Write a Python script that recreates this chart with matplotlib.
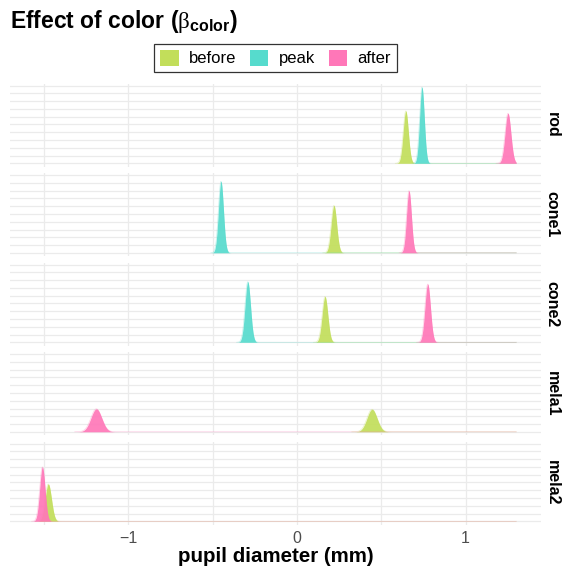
import numpy as np
import matplotlib
matplotlib.use("Agg")
import matplotlib.pyplot as plt
from matplotlib.patches import Patch

plt.rcParams['font.family'] = ['Liberation Sans', 'DejaVu Sans']
plt.rcParams['mathtext.fontset'] = 'custom'
plt.rcParams['mathtext.rm'] = 'Liberation Serif'
plt.rcParams['mathtext.bf'] = 'Liberation Sans:bold'
plt.rcParams['mathtext.it'] = 'Liberation Serif:italic'

# ---- data ----
panels = ['rod', 'cone1', 'cone2', 'mela1', 'mela2']
groups = ['before', 'peak', 'after']
colors = ['#C2DE5A', '#56DBCD', '#FF77B8']

before_mean = [0.645, 0.219, 0.166, 0.445, -1.475]
before_sd = [0.0155, 0.0165, 0.017, 0.030, 0.019]
before_h = [6.74, 6.1, 5.9, 2.9, 4.8]

peak_mean = [0.741, -0.451, -0.292, np.nan, np.nan]
peak_sd = [0.014, 0.015, 0.0165, np.nan, np.nan]
peak_h = [9.8, 9.2, 7.8, np.nan, np.nan]

after_mean = [1.251, 0.664, 0.775, -1.19, -1.51]
after_sd = [0.0175, 0.0145, 0.0165, 0.032, 0.016]
after_h = [6.44, 8.0, 7.5, 2.96, 7.0]

x_end = 1.30
xlim = (-1.702, 1.447)
ylim = (-0.45, 10.28)
xtick_pos = [-1.5, -1, -0.5, 0, 0.5, 1]
xtick_lab = ['', '\u22121', '', '0', '', '1']

means = [before_mean, peak_mean, after_mean]
sds = [before_sd, peak_sd, after_sd]
hs = [before_h, peak_h, after_h]

W, H = 564, 573
fig = plt.figure(figsize=(W / 100, H / 100), dpi=100)

grid_c = '#EBEBEB'
for i, name in enumerate(panels):
    top = 83.5 + 89.5 * i
    ph = 83.3
    ax = fig.add_axes([10 / W, 1 - (top + ph) / H, 531 / W, ph / H])
    ax.set_xlim(*xlim)
    ax.set_ylim(*ylim)
    for s in ax.spines.values():
        s.set_visible(False)
    ax.set_yticks(range(11))
    ax.set_yticklabels([])
    ax.set_xticks(xtick_pos)
    if i == len(panels) - 1:
        ax.set_xticklabels(xtick_lab)
    else:
        ax.set_xticklabels([])
    ax.tick_params(length=0, labelsize=11.5, labelcolor='#4D4D4D', pad=4.5)
    ax.grid(True, color=grid_c, lw=0.9)
    ax.set_axisbelow(True)
    for g in range(3):
        m, sd, h = means[g][i], sds[g][i], hs[g][i]
        if np.isnan(m):
            continue
        x = np.linspace(m - 4 * sd, x_end, 6000)
        y = h * np.exp(-0.5 * ((x - m) / sd) ** 2)
        ax.fill_between(x, 0, y, color=colors[g], alpha=0.92, lw=0, zorder=3)
        ax.plot(x, y, color=colors[g], lw=0.5, alpha=0.35, zorder=3)
    fig.text(552 / W, 1 - (top + ph / 2) / H, name, rotation=-90,
             ha='center', va='center', fontsize=11.5, fontweight='bold')

# title
fig.text(10 / W, 1 - 28.3 / H, r'Effect of color ($\mathrm{\beta}_{\mathbf{color}}$)',
         fontsize=16.5, fontweight='bold', ha='left', va='baseline')

# legend
handles = [Patch(facecolor=c, edgecolor='none', label=l) for c, l in zip(colors, groups)]
leg = fig.legend(handles=handles, loc='center', bbox_to_anchor=(275.5 / W, 1 - 58 / H),
                 ncol=3, frameon=True, fontsize=12, handlelength=1.1, handleheight=1.1,
                 handletextpad=0.6, columnspacing=0.85, borderpad=0.35,
                 fancybox=False, borderaxespad=0)
leg.get_frame().set_edgecolor('black')
leg.get_frame().set_linewidth(0.9)

fig.text(275.5 / W, 1 - 556 / H, 'pupil diameter (mm)', fontsize=14.8,
         fontweight='bold', ha='center', va='center')

fig.savefig('out.png', dpi=100)
